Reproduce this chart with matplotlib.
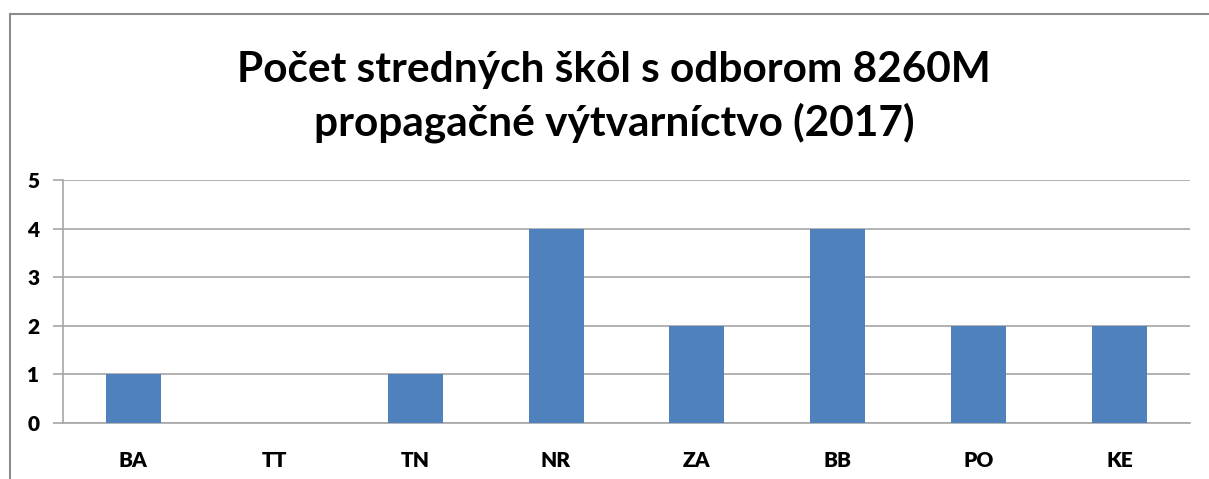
import matplotlib
matplotlib.use("Agg")
from matplotlib import pyplot as plt
from matplotlib.lines import Line2D

# data
regions = ["BA", "TT", "TN", "NR", "ZA", "BB", "PO", "KE"]
schools = [1, 0, 1, 4, 2, 4, 2, 2]
yticks = [0, 1, 2, 3, 4, 5]
title = "Počet stredných škôl s odborom 8260M\npropagačné výtvarníctvo (2017)"

plt.rcParams['font.family'] = ['Lato', 'DejaVu Sans']

fig = plt.figure(figsize=(12.09, 4.79), dpi=100)
W, H = 1209.0, 479.0

# outer chart frame (only top and left edge visible in the crop)
fig.add_artist(Line2D([10 / W, 10 / W], [0, 1 - 14 / H], color="#8c8c8c", lw=1.5))
fig.add_artist(Line2D([10 / W, 1], [1 - 14 / H, 1 - 14 / H], color="#8c8c8c", lw=1.5))

ax = fig.add_axes([63 / W, 1 - 423 / H, (1190 - 63) / W, (423 - 180) / H])
x = range(len(regions))
ax.bar(x, schools, width=0.39, color="#4f81bd", zorder=3)

ax.set_xlim(-0.5, len(regions) - 0.5)
ax.set_ylim(0, 5)
ax.set_yticks(yticks)
ax.set_xticks(list(x))
ax.set_xticklabels(regions, fontweight="heavy", fontsize=15)
ax.set_yticklabels([str(t) for t in yticks], fontweight="heavy", fontsize=15)
ax.yaxis.grid(True, color="#a6a6a6", lw=1.2, zorder=0)
ax.tick_params(axis="y", length=7, color="#a6a6a6", width=1.2, pad=10)
ax.tick_params(axis="x", length=0, pad=20)
for s in ["top", "right"]:
    ax.spines[s].set_visible(False)
ax.spines["left"].set_color("#a6a6a6")
ax.spines["left"].set_linewidth(1.2)
ax.spines["bottom"].set_color("#a6a6a6")
ax.spines["bottom"].set_linewidth(1.2)

fig.text(0.508, 1 - 97 / H, title, ha="center", va="center", fontsize=30.5,
         fontweight="bold", linespacing=1.4)

fig.savefig("out.png", dpi=100)
